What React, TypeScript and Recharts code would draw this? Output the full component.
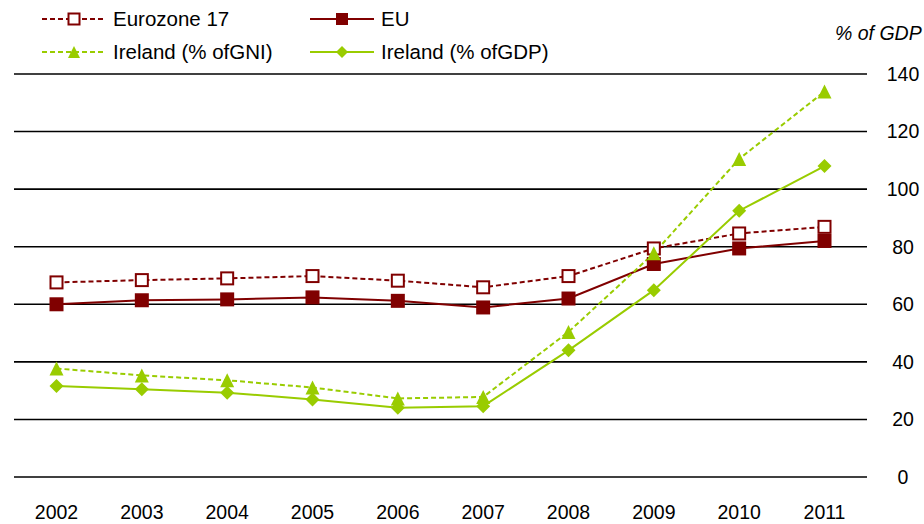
import React from "react";
import { LineChart, Line, XAxis, YAxis, CartesianGrid } from "recharts";

const years = ["2002", "2003", "2004", "2005", "2006", "2007", "2008", "2009", "2010", "2011"];
const eurozone17 = [67.6, 68.4, 69.0, 69.8, 68.2, 65.9, 69.8, 79.4, 84.6, 86.9];
const eu = [60.0, 61.4, 61.7, 62.4, 61.2, 58.9, 62.0, 74.0, 79.4, 82.0];
const irelandGni = [37.7, 35.3, 33.6, 31.1, 27.3, 27.8, 50.4, 77.7, 110.5, 133.9];
const irelandGdp = [31.6, 30.5, 29.3, 26.9, 24.1, 24.6, 44.0, 64.9, 92.5, 108.0];
const yTicks = [0, 20, 40, 60, 80, 100, 120, 140];

const RED = "#800000";
const GREEN = "#99cc00";
const FONT = "'Liberation Sans', Arial, sans-serif";

const data = years.map((y, i) => ({
  year: y,
  ez: eurozone17[i],
  eu: eu[i],
  gni: irelandGni[i],
  gdp: irelandGdp[i],
}));

const hollowSquare = (cx: number, cy: number, s = 12) => (
  <rect x={cx - s / 2} y={cy - s / 2} width={s} height={s} fill="#fff" stroke={RED} strokeWidth={2} />
);
const filledSquare = (cx: number, cy: number, s = 14) => (
  <rect x={cx - s / 2} y={cy - s / 2} width={s} height={s} fill={RED} />
);
const triangle = (cx: number, cy: number, s = 14) => (
  <polygon points={`${cx},${cy - s / 2} ${cx + s / 2},${cy + s / 2} ${cx - s / 2},${cy + s / 2}`} fill={GREEN} />
);
const diamond = (cx: number, cy: number, s = 14) => (
  <polygon points={`${cx},${cy - s / 2} ${cx + s / 2},${cy} ${cx},${cy + s / 2} ${cx - s / 2},${cy}`} fill={GREEN} />
);

const dot = (fn: (cx: number, cy: number) => React.ReactElement) => (p: any) => (
  <g key={p.key ?? `${p.dataKey}-${p.index}`}>{fn(p.cx, p.cy)}</g>
);

function LegendItem({ x, y, color, dashed, marker, label }: any) {
  return (
    <div style={{ position: "absolute", left: x, top: y - 13, height: 26, display: "flex", alignItems: "center" }}>
      <svg width={64} height={26}>
        <line x1={0} y1={13} x2={64} y2={13} stroke={color} strokeWidth={2} strokeDasharray={dashed ? "5 3" : undefined} />
        {marker(32, 13)}
      </svg>
      <span style={{ marginLeft: 7, fontSize: 20.5, color: "#000", whiteSpace: "nowrap" }}>{label}</span>
    </div>
  );
}

export default function App() {
  return (
    <div style={{ position: "relative", width: 924, height: 524, fontFamily: FONT, background: "#fff" }}>
      <style>{"body{margin:0}"}</style>
      <LineChart width={924} height={524} data={data} margin={{ top: 74, right: 0, left: 14, bottom: 0 }}>
        <CartesianGrid vertical={false} stroke="#000" strokeWidth={1.6} />
        <XAxis
          dataKey="year"
          axisLine={false}
          tickLine={false}
          tickSize={0}
          tickMargin={0}
          height={47}
          padding={{ left: 42.5, right: 42.5 }}
          interval={0}
          tick={(p: any) => (
            <text x={p.x} y={p.y + 28} dy="0.71em" textAnchor="middle" fontSize={19.5} fill="#000" fontFamily={FONT}>
              {p.payload.value}
            </text>
          )}
        />
        <YAxis
          orientation="right"
          domain={[0, 140]}
          ticks={yTicks}
          axisLine={false}
          tickLine={false}
          tickSize={0}
          tickMargin={0}
          width={57}
          interval={0}
          tick={(p: any) => (
            <text x={p.x + 36} y={p.y} dy="0.35em" textAnchor="middle" fontSize={19.5} fill="#000" fontFamily={FONT}>
              {p.payload.value}
            </text>
          )}
        />
        <Line dataKey="ez" stroke={RED} strokeWidth={2} strokeDasharray="5 3" dot={dot(hollowSquare)} isAnimationActive={false} />
        <Line dataKey="eu" stroke={RED} strokeWidth={2} dot={dot(filledSquare)} isAnimationActive={false} />
        <Line dataKey="gni" stroke={GREEN} strokeWidth={2} strokeDasharray="5 3" dot={dot(triangle)} isAnimationActive={false} />
        <Line dataKey="gdp" stroke={GREEN} strokeWidth={2} dot={dot(diamond)} isAnimationActive={false} />
      </LineChart>
      <LegendItem x={42} y={19} color={RED} dashed marker={(x: number, y: number) => hollowSquare(x, y, 11)} label="Eurozone 17" />
      <LegendItem x={310} y={19} color={RED} marker={(x: number, y: number) => filledSquare(x, y, 12)} label="EU" />
      <LegendItem x={42} y={52} color={GREEN} dashed marker={(x: number, y: number) => triangle(x, y, 12)} label="Ireland (% ofGNI)" />
      <LegendItem x={310} y={52} color={GREEN} marker={(x: number, y: number) => diamond(x, y, 12)} label="Ireland (% ofGDP)" />
      <div style={{ position: "absolute", left: 835, top: 22, fontSize: 19.5, fontStyle: "italic", whiteSpace: "nowrap" }}>
        % of GDP
      </div>
    </div>
  );
}
